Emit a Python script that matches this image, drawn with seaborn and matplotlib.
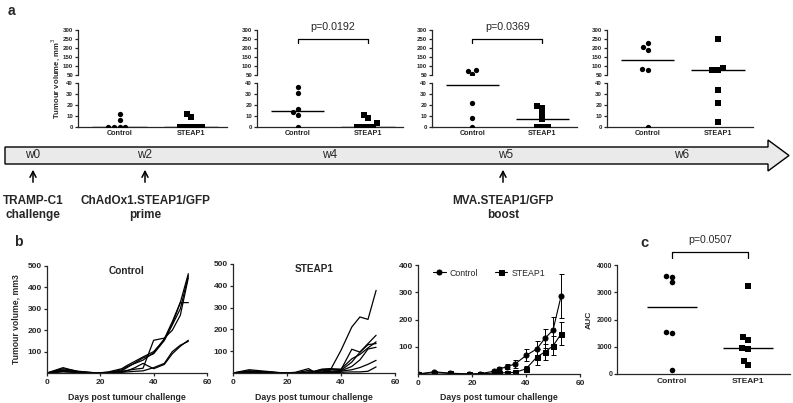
import numpy as np
import pandas as pd
import matplotlib.pyplot as plt
import seaborn as sns
from matplotlib.patches import Polygon

sns.set_theme(style="ticks")
plt.rcParams['font.family'] = ['Liberation Sans', 'DejaVu Sans']
plt.rcParams['axes.linewidth'] = 0.9
plt.rcParams['xtick.major.width'] = 0.9
plt.rcParams['ytick.major.width'] = 0.9
plt.rcParams['xtick.major.size'] = 2.5
plt.rcParams['ytick.major.size'] = 2.5
plt.rcParams['xtick.major.pad'] = 1.5
plt.rcParams['ytick.major.pad'] = 1.0

W, H = 793, 403
groups = ["Control", "STEAP1"]
markers = {"Control": "o", "STEAP1": "s"}

# panel a - tumour volume per mouse (mm3) at weeks 2, 4, 5, 6
a_control = [
    [12, 6, 0, 0, 0, 0],
    [36, 31, 16, 14, 11, 0],
    [78, 72, 55, 22, 8, 0],
    [226, 204, 189, 83, 80, 0],
]
a_steap1 = [
    [12, 9, 0, 0, 0, 0, 0],
    [11, 8, 3.5, 0, 0, 0, 0],
    [19, 17, 12, 7, 0, 0, 0],
    [248, 88, 80, 78, 34, 22, 5],
]
a_pvalues = [None, "p=0.0192", "p=0.0369", None]
a_top_ticks = [50, 100, 150, 200, 250, 300]
a_bottom_ticks = [0, 10, 20, 30, 40]

# timeline
weeks = ["w0", "w2", "w4", "w5", "w6"]
events = ["TRAMP-C1\nchallenge", "ChAdOx1.STEAP1/GFP\nprime", "MVA.STEAP1/GFP\nboost"]

# panel b - individual growth curves
days = [0, 6, 12, 19, 23, 28, 30, 33, 36, 40, 44, 47, 50, 53]
b_control = [
    [0, 20, 8, 0, 2, 15, 30, 45, 60, 95, 160, 240, 330, 464],
    [0, 12, 5, 0, 0, 10, 25, 48, 70, 90, 152, 225, 300, 455],
    [0, 8, 3, 0, 5, 20, 35, 55, 75, 100, 155, 230, 329, 329],
    [0, 5, 2, 0, 3, 8, 12, 18, 22, 153, 163, 200, 270, 445],
    [0, 25, 5, 0, 0, 5, 10, 25, 45, 20, 40, 90, 125, 153],
    [0, 15, 3, 0, 0, 3, 5, 8, 10, 25, 45, 100, 130, 148],
]
b_steap1 = [
    [0, 15, 8, 0, 3, 20, 5, 15, 12, 104, 211, 257, 246, 379],
    [0, 10, 5, 0, 0, 12, 8, 18, 20, 15, 109, 96, 135, 173],
    [0, 8, 4, 0, 0, 5, 6, 15, 18, 18, 65, 85, 115, 143],
    [0, 5, 3, 0, 0, 3, 4, 10, 15, 12, 50, 95, 130, 135],
    [0, 4, 2, 0, 0, 2, 3, 5, 8, 10, 30, 60, 110, 118],
    [0, 3, 2, 0, 0, 1, 2, 3, 4, 8, 15, 25, 40, 58],
    [0, 2, 1, 0, 0, 1, 1, 2, 2, 3, 5, 5, 8, 28],
]

# panel b - group mean +/- SEM
mean_days = [0, 6, 12, 19, 23, 28, 30, 33, 36, 40, 44, 47, 50, 53]
control_mean = [0, 8, 3, 0, 1, 10, 18, 27, 37, 68, 92, 131, 161, 286]
control_sem = [1, 3, 2, 0.5, 1, 5, 7, 9, 15, 22, 28, 35, 50, 80]
steap1_mean = [0, 5, 2, 0, 1, 3, 4, 5, 6, 19, 62, 81, 103, 147]
steap1_sem = [1, 2, 1, 0.5, 0.5, 2, 2, 3, 3, 12, 28, 30, 35, 42]

# panel c - area under curve
auc_control = [3608, 3570, 3366, 1553, 1516, 147]
auc_steap1 = [3230, 1346, 1248, 942, 918, 477, 330]

BOLD = dict(fontweight="bold")


def box(x0, y0, x1, y1):
    return [x0 / W, 1 - y1 / H, (x1 - x0) / W, (y1 - y0) / H]


def group_frame(ctrl, steap):
    return pd.DataFrame({"group": ["Control"] * len(ctrl) + ["STEAP1"] * len(steap),
                         "vol": list(ctrl) + list(steap)})


def swarm(ax, df, size):
    for g in groups:
        sub = df[df.group == g]
        if len(sub):
            sns.swarmplot(data=sub, x="group", y="vol", order=groups, marker=markers[g],
                          color="black", size=size, ax=ax, warn_thresh=1)


def medians(ax, df, half=0.38):
    for i, g in enumerate(groups):
        m = np.median(df[df.group == g].vol)
        ax.hlines(m, i - half, i + half, color="black", lw=1.0)


fig = plt.figure(figsize=(W / 100, H / 100), dpi=100)

# background axes for the timeline
bg = fig.add_axes([0, 0, 1, 1])
bg.set_xlim(0, W)
bg.set_ylim(H, 0)
bg.axis("off")

# ---- panel a ----
a_x = [(78, 227), (257, 403), (432, 577), (607, 753)]
for k, (x0, x1) in enumerate(a_x):
    df = group_frame(a_control[k], a_steap1[k])
    top = fig.add_axes(box(x0, 30, x1, 75))
    bot = fig.add_axes(box(x0, 83, x1, 127))
    swarm(top, df[df.vol > 45], 3.8)
    swarm(bot, df[df.vol <= 45], 3.8)
    medians(top, df)
    medians(bot, df)
    for ax in (top, bot):
        ax.set_xlim(-0.58, 1.5)
        ax.set_xlabel("")
        ax.set_ylabel("")
        for s in ("top", "right"):
            ax.spines[s].set_visible(False)
        ax.tick_params(labelsize=4.4)
    top.set_ylim(50, 300)
    top.set_yticks(a_top_ticks)
    top.spines["bottom"].set_visible(False)
    top.tick_params(axis="x", bottom=False, labelbottom=False)
    bot.set_ylim(0, 40)
    bot.set_yticks(a_bottom_ticks)
    bot.set_xticks([0, 1])
    bot.set_xticklabels(groups, fontsize=5.2, fontweight="bold")
    bot.tick_params(axis="x", length=0, pad=2)
    for ax in (top, bot):
        for t in ax.get_yticklabels():
            t.set_fontweight("bold")
    if a_pvalues[k]:
        top.plot([0, 0, 1, 1], [228, 250, 250, 228], color="black", lw=0.9, clip_on=False)
        top.text(0.5, 315, a_pvalues[k], ha="center", va="center", fontsize=7.7)
    if k == 0:
        fig.text(56 / W, 1 - 78 / H, "Tumour volume, mm$^3$", rotation=90, ha="center",
                 va="center", fontsize=5.6, fontweight="bold")

fig.text(8 / W, 1 - 11 / H, "a", fontsize=10, fontweight="bold", va="center")

# ---- timeline ----
arrow = Polygon([(5, 147), (768, 147), (768, 140), (789, 155.5), (768, 171), (768, 164), (5, 164)],
                closed=True, facecolor="#eaeaea", edgecolor="black", lw=1.0)
bg.add_patch(arrow)
week_x = [33, 145, 330, 506, 682]
for wx, w in zip(week_x, weeks):
    bg.text(wx, 155.5, w, ha="center", va="center", fontsize=8.5)
event_x = [33, 145, 503]
for ex, e in zip(event_x, events):
    bg.annotate("", xy=(ex, 167), xytext=(ex, 185),
                arrowprops=dict(arrowstyle="->,head_width=0.18,head_length=0.35", color="black", lw=1.1))
    bg.text(ex, 208, e, ha="center", va="center", fontsize=8.5, fontweight="bold", linespacing=1.15)


# ---- panel b ----
def long_curves(curves, prefix):
    rows = []
    for i, c in enumerate(curves):
        for d, v in zip(days, c):
            rows.append({"mouse": f"{prefix}{i}", "day": d, "vol": v})
    return pd.DataFrame(rows).dropna()


def style_b(ax, ymax, yticks):
    ax.set_xlim(0, 60)
    ax.set_ylim(0, ymax)
    ax.set_xticks([0, 20, 40, 60])
    ax.set_yticks(yticks)
    for s in ("top", "right"):
        ax.spines[s].set_visible(False)
    ax.tick_params(labelsize=6)
    for t in ax.get_xticklabels() + ax.get_yticklabels():
        t.set_fontweight("bold")
    ax.set_xlabel("Days post tumour challenge", fontsize=6.3, fontweight="bold", labelpad=5)
    ax.set_ylabel("")


b1 = fig.add_axes(box(47, 266, 207, 373))
sns.lineplot(data=long_curves(b_control, "c"), x="day", y="vol", units="mouse", estimator=None,
             color="black", lw=0.9, ax=b1, legend=False)
style_b(b1, 500, [100, 200, 300, 400, 500])
b1.text(0.5, 0.95, "Control", transform=b1.transAxes, ha="center", va="center", fontsize=7.3, **BOLD)
b1.set_ylabel("Tumour volume, mm3", fontsize=6.2, fontweight="bold", labelpad=5)

b2 = fig.add_axes(box(233, 264, 395, 373))
sns.lineplot(data=long_curves(b_steap1, "s"), x="day", y="vol", units="mouse", estimator=None,
             color="black", lw=0.9, ax=b2, legend=False)
style_b(b2, 500, [100, 200, 300, 400, 500])
b2.text(0.5, 0.95, "STEAP1", transform=b2.transAxes, ha="center", va="center", fontsize=7.2, **BOLD)

b3 = fig.add_axes(box(418, 265, 580, 374))
mdf = pd.DataFrame({"day": mean_days * 2,
                    "vol": control_mean + steap1_mean,
                    "err": control_sem + steap1_sem,
                    "group": ["Control"] * len(mean_days) + ["STEAP1"] * len(mean_days)})
for g in groups:
    sub = mdf[mdf.group == g]
    b3.errorbar(sub["day"], sub["vol"], yerr=sub["err"], fmt="none", ecolor="black",
                elinewidth=0.7, capsize=1.8, capthick=0.7)
sns.lineplot(data=mdf, x="day", y="vol", style="group", markers=markers, dashes=False,
             color="black", lw=0.8, markersize=3.6, markeredgecolor="black", ax=b3)
style_b(b3, 400, [100, 200, 300, 400])
h, l = b3.get_legend_handles_labels()
keep = [(hh, ll) for hh, ll in zip(h, l) if ll in groups]
b3.legend([k[0] for k in keep], [k[1] for k in keep], ncol=2, loc="upper center",
          bbox_to_anchor=(0.44, 1.04), frameon=False, fontsize=6.3, handlelength=1.4,
          columnspacing=1.9, handletextpad=0.5)

fig.text(14 / W, 1 - 242 / H, "b", fontsize=10, fontweight="bold", va="center")

# ---- panel c ----
c_ax = fig.add_axes(box(617, 265, 790, 374))
cdf = group_frame(auc_control, auc_steap1)
swarm(c_ax, cdf, 4)
medians(c_ax, cdf, 0.33)
c_ax.set_xlim(-0.72, 1.55)
c_ax.set_ylim(0, 4000)
c_ax.set_yticks([0, 1000, 2000, 3000, 4000])
c_ax.set_xticks([0, 1])
c_ax.set_xticklabels(groups)
for s in ("top", "right"):
    c_ax.spines[s].set_visible(False)
c_ax.tick_params(labelsize=5)
c_ax.tick_params(axis="x", length=0, pad=3, labelsize=6)
for t in c_ax.get_xticklabels() + c_ax.get_yticklabels():
    t.set_fontweight("bold")
c_ax.set_xlabel("")
c_ax.set_ylabel("AUC", fontsize=6.1, fontweight="bold", labelpad=3)
c_ax.plot([0, 0, 1, 1], [4260, 4480, 4480, 4260], color="black", lw=0.9, clip_on=False)
c_ax.text(0.5, 4900, "p=0.0507", ha="center", va="center", fontsize=7.6)
fig.text(640 / W, 1 - 243 / H, "c", fontsize=10.5, fontweight="bold", va="center")

fig.savefig("out.png", dpi=100)
